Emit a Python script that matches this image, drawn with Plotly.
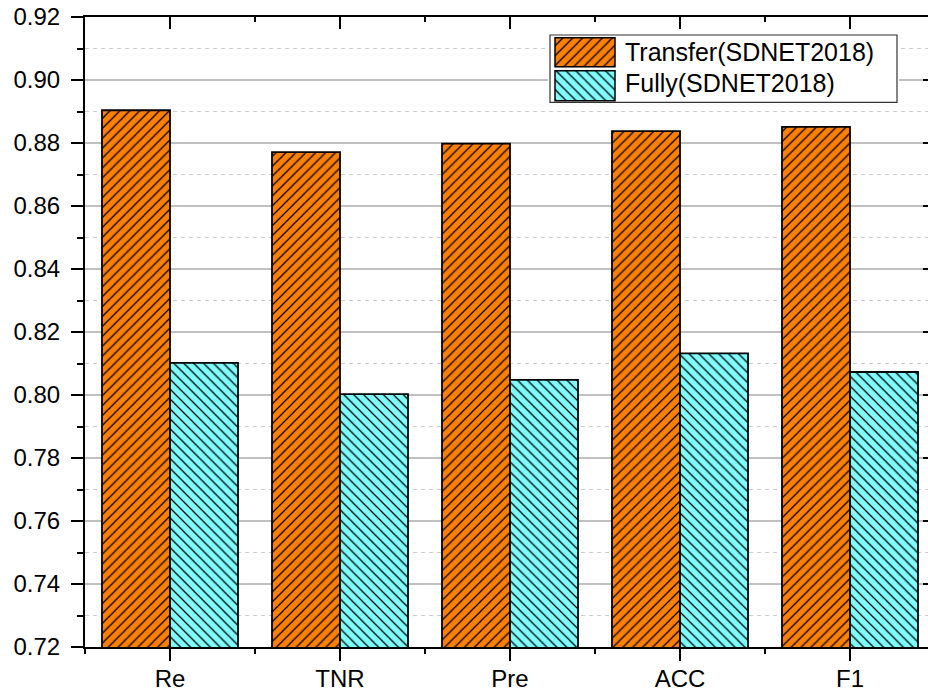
import plotly.graph_objects as go

# Metric names and scores for the two training strategies
categories = ["Re", "TNR", "Pre", "ACC", "F1"]
transfer_scores = [0.8904, 0.8771, 0.8798, 0.8838, 0.8851]
fully_scores = [0.8102, 0.8003, 0.8048, 0.8132, 0.8073]
series_names = ["Transfer(SDNET2018)", "Fully(SDNET2018)"]
y_ticks = [0.72, 0.74, 0.76, 0.78, 0.80, 0.82, 0.84, 0.86, 0.88, 0.90, 0.92]

ORANGE = "#FF8000"
CYAN = "#80FFFF"
FONT = "Liberation Sans, Arial, sans-serif"

W, H = 928, 698
M_L, M_R, M_T, M_B = 85, 0, 17, 51
plot_w = W - M_L - M_R
plot_h = H - M_T - M_B
cat_px = 170.0  # horizontal space per category
x_idx = list(range(len(categories)))
x_range = [-0.5, -0.5 + plot_w / cat_px]

fig = go.Figure()


def hatch(shape, col):
    return dict(shape=shape, fgcolor="black", bgcolor=col, size=7,
                solidity=0.18, fillmode="replace")


patterns = [hatch("/", ORANGE), hatch("\\", CYAN)]
colors = [ORANGE, CYAN]

for name, vals, col, pat in zip(series_names, [transfer_scores, fully_scores],
                                colors, patterns):
    fig.add_trace(go.Bar(
        x=x_idx, y=vals, name=name, showlegend=False,
        marker=dict(color=col, pattern=pat, line=dict(color="black", width=1.8)),
        xaxis="x", yaxis="y",
    ))

# helper traces so the mirrored top / right axes are rendered
fig.add_trace(go.Scatter(x=[], y=[], xaxis="x2", yaxis="y", showlegend=False, hoverinfo="skip"))
fig.add_trace(go.Scatter(x=[], y=[], xaxis="x", yaxis="y3", showlegend=False, hoverinfo="skip"))

# ---- legend box (own small subplot so the patterned swatches can be drawn) ----
box = dict(x0=550, x1=897, y0=35, y1=102.3)   # pixel frame of the legend
pad = 2
bw = box["x1"] - box["x0"]
bh = box["y1"] - box["y0"]
lx_dom = [(box["x0"] - pad - M_L) / plot_w, (box["x1"] + pad - M_L) / plot_w]
ly_dom = [(H - M_B - box["y1"] - pad) / plot_h, (H - M_B - box["y0"] + pad) / plot_h]
lx_rng = [-pad / bw, 1 + pad / bw]
ly_rng = [-pad / bh, 1 + pad / bh]

sw_x = (585 - box["x0"]) / bw
sw_w = 60 / bw
sw_rows = [((box["y1"] - 66.7) / bh, 29.0 / bh), ((box["y1"] - 100.7) / bh, 30.0 / bh)]
txt_y = [(box["y1"] - 51.7) / bh, (box["y1"] - 83.3) / bh]

for name, col, pat, (b, h) in zip(series_names, colors, patterns, sw_rows):
    fig.add_trace(go.Bar(
        x=[sw_x], y=[h], base=[b], width=[sw_w], offset=[-sw_w / 2],
        marker=dict(color=col, pattern=pat, line=dict(color="black", width=1.5)),
        xaxis="x3", yaxis="y4", showlegend=False, hoverinfo="skip", name=name,
    ))

for name, ty in zip(series_names, txt_y):
    fig.add_annotation(
        x=(623 - box["x0"]) / bw, y=ty, xref="x3", yref="y4", text=name,
        showarrow=False, xanchor="left", yanchor="middle",
        font=dict(family=FONT, size=25, color="black"),
    )

fig.add_shape(type="rect", xref="x3", yref="y4", x0=0, x1=1, y0=0, y1=1,
              layer="below", fillcolor="white", line=dict(color="#333333", width=1.2))

tick_font = dict(family=FONT, size=24, color="black")

fig.update_layout(
    width=W, height=H,
    margin=dict(l=M_L, r=M_R, t=M_T, b=M_B, pad=0),
    paper_bgcolor="white", plot_bgcolor="white",
    barmode="group", bargap=0.2, bargroupgap=0,
    font=dict(family=FONT, size=24, color="black"),
    xaxis=dict(
        range=x_range, tickmode="array", tickvals=x_idx, ticktext=categories,
        showline=True, linecolor="black", linewidth=2,
        ticks="outside", ticklen=12, tickwidth=2, tickcolor="black",
        minor=dict(tick0=0.5, dtick=1, ticks="outside", ticklen=5, tickwidth=2,
                   tickcolor="black", showgrid=False),
        showgrid=False, zeroline=False, tickfont=tick_font, ticklabelstandoff=-3,
    ),
    xaxis2=dict(
        overlaying="x", side="top", anchor="y", range=x_range,
        tickmode="array", tickvals=x_idx, showticklabels=False,
        showline=True, linecolor="black", linewidth=2,
        ticks="inside", ticklen=12, tickwidth=2, tickcolor="black",
        minor=dict(tick0=0.5, dtick=1, ticks="inside", ticklen=5, tickwidth=2,
                   tickcolor="black", showgrid=False),
        showgrid=False, zeroline=False,
    ),
    yaxis=dict(
        range=[0.72, 0.92], tickmode="array", tickvals=y_ticks, tickformat=".2f",
        showline=True, linecolor="black", linewidth=2,
        ticks="outside", ticklen=12, tickwidth=2, tickcolor="black",
        showgrid=True, gridcolor="#c0c0c0", gridwidth=1.5,
        minor=dict(tick0=0.72, dtick=0.01, ticks="outside", ticklen=6, tickwidth=2,
                   tickcolor="black", showgrid=True, gridcolor="#cccccc",
                   gridwidth=1, griddash="4px,4px"),
        zeroline=False, tickfont=tick_font, ticklabelstandoff=6,
    ),
    yaxis3=dict(
        overlaying="y", side="right", anchor="x", range=[0.72, 0.92],
        tickmode="array", tickvals=y_ticks, showticklabels=False,
        showline=False, ticks="inside", ticklen=5, tickwidth=2, tickcolor="black",
        showgrid=False, zeroline=False,
    ),
    xaxis3=dict(domain=lx_dom, anchor="y4", range=lx_rng, visible=False, fixedrange=True),
    yaxis4=dict(domain=ly_dom, anchor="x3", range=ly_rng, visible=False, fixedrange=True),
)

fig.write_html("out.html")
